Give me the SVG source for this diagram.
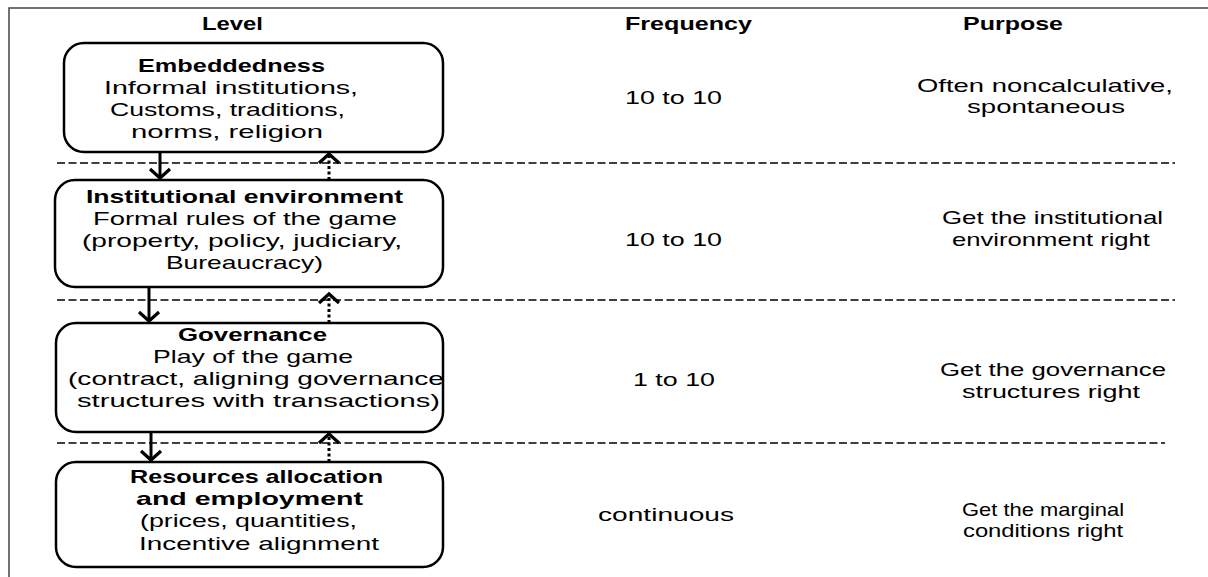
<svg xmlns="http://www.w3.org/2000/svg" width="1208" height="577" viewBox="0 0 1208 577">
<style>
text{font-family:"Liberation Sans",Arial,sans-serif;font-size:18.5px;fill:#000}
.b{font-weight:bold}
.box{fill:#fff;stroke:#000;stroke-width:2.5}
.sep{stroke:#000;stroke-width:1.6;stroke-dasharray:8 3.5;fill:none}
.down{stroke:#000;stroke-width:3;fill:none;marker-end:url(#head)}
.up{stroke:#000;stroke-width:3;stroke-dasharray:3 2.5;fill:none;marker-end:url(#head)}
.frame{stroke:#444;stroke-width:1.5;fill:none}
</style>
<defs>
<marker id="head" viewBox="-12 -12 14 24" markerWidth="14" markerHeight="24" refX="0" refY="0" orient="auto" markerUnits="userSpaceOnUse" overflow="visible">
<path d="M-9,-10 L0,0 L-9,10" fill="none" stroke="#000" stroke-width="3.2"/>
</marker>
</defs>
<rect width="1208" height="577" fill="#fff"/>
<g id="frame">
<path class="frame" d="M9,577 V8 H1208"/>
</g>
<g id="headers">
<text class="b" x="202" y="30" textLength="61" lengthAdjust="spacingAndGlyphs">Level</text>
<text class="b" x="625" y="30" textLength="127" lengthAdjust="spacingAndGlyphs">Frequency</text>
<text class="b" x="963" y="30" textLength="100" lengthAdjust="spacingAndGlyphs">Purpose</text>
</g>
<g id="separators">
<line class="sep" x1="57" y1="163" x2="1175" y2="163"/>
<line class="sep" x1="57" y1="300" x2="1175" y2="300"/>
<line class="sep" x1="57" y1="443" x2="1165" y2="443"/>
</g>
<g id="node-embeddedness">
<rect class="box" x="64" y="43" width="379" height="109" rx="20"/>
<text class="b" x="138" y="72" textLength="187" lengthAdjust="spacingAndGlyphs">Embeddedness</text>
<text x="104" y="94" textLength="254" lengthAdjust="spacingAndGlyphs">Informal institutions,</text>
<text x="110" y="116" textLength="235" lengthAdjust="spacingAndGlyphs">Customs, traditions,</text>
<text x="131" y="138" textLength="192" lengthAdjust="spacingAndGlyphs">norms, religion</text>
</g>
<g id="node-institutional">
<rect class="box" x="55" y="180" width="388" height="107" rx="20"/>
<text class="b" x="86" y="203" textLength="317" lengthAdjust="spacingAndGlyphs">Institutional environment</text>
<text x="93" y="225" textLength="304" lengthAdjust="spacingAndGlyphs">Formal rules of the game</text>
<text x="82" y="247" textLength="320" lengthAdjust="spacingAndGlyphs">(property, policy, judiciary,</text>
<text x="166" y="269" textLength="157" lengthAdjust="spacingAndGlyphs">Bureaucracy)</text>
</g>
<g id="node-governance">
<rect class="box" x="56" y="323" width="387" height="109" rx="20"/>
<text class="b" x="178" y="341" textLength="149" lengthAdjust="spacingAndGlyphs">Governance</text>
<text x="153" y="363" textLength="200" lengthAdjust="spacingAndGlyphs">Play of the game</text>
<text x="68" y="385" textLength="376" lengthAdjust="spacingAndGlyphs">(contract, aligning governance</text>
<text x="77" y="407" textLength="363" lengthAdjust="spacingAndGlyphs">structures with transactions)</text>
</g>
<g id="node-resources">
<rect class="box" x="56" y="462" width="387" height="105" rx="20"/>
<text class="b" x="130" y="483" textLength="253" lengthAdjust="spacingAndGlyphs">Resources allocation</text>
<text class="b" x="136" y="505" textLength="227" lengthAdjust="spacingAndGlyphs">and employment</text>
<text x="140" y="527" textLength="217" lengthAdjust="spacingAndGlyphs">(prices, quantities,</text>
<text x="139" y="550" textLength="240" lengthAdjust="spacingAndGlyphs">Incentive alignment</text>
</g>
<g id="frequency">
<text x="625" y="104" textLength="97" lengthAdjust="spacingAndGlyphs">10 to 10</text>
<text x="625" y="246" textLength="97" lengthAdjust="spacingAndGlyphs">10 to 10</text>
<text x="633" y="386" textLength="82" lengthAdjust="spacingAndGlyphs">1 to 10</text>
<text x="598" y="521" textLength="136" lengthAdjust="spacingAndGlyphs">continuous</text>
</g>
<g id="purpose">
<text x="917" y="92" textLength="256" lengthAdjust="spacingAndGlyphs">Often noncalculative,</text>
<text x="967" y="113" textLength="158" lengthAdjust="spacingAndGlyphs">spontaneous</text>
<text x="942" y="224" textLength="221" lengthAdjust="spacingAndGlyphs">Get the institutional</text>
<text x="952" y="246" textLength="198" lengthAdjust="spacingAndGlyphs">environment right</text>
<text x="940" y="376" textLength="226" lengthAdjust="spacingAndGlyphs">Get the governance</text>
<text x="962" y="398" textLength="178" lengthAdjust="spacingAndGlyphs">structures right</text>
<text x="962" y="516" textLength="162" lengthAdjust="spacingAndGlyphs">Get the marginal</text>
<text x="963" y="537" textLength="160" lengthAdjust="spacingAndGlyphs">conditions right</text>
</g>
<g id="connectors">
<line class="down" x1="160" y1="152" x2="160" y2="178"/>
<line class="up" x1="329" y1="180" x2="329" y2="154"/>
<line class="down" x1="149" y1="287" x2="149" y2="321"/>
<line class="up" x1="329" y1="323" x2="329" y2="294"/>
<line class="down" x1="151" y1="432" x2="151" y2="460"/>
<line class="up" x1="329" y1="462" x2="329" y2="434"/>
</g>
</svg>
